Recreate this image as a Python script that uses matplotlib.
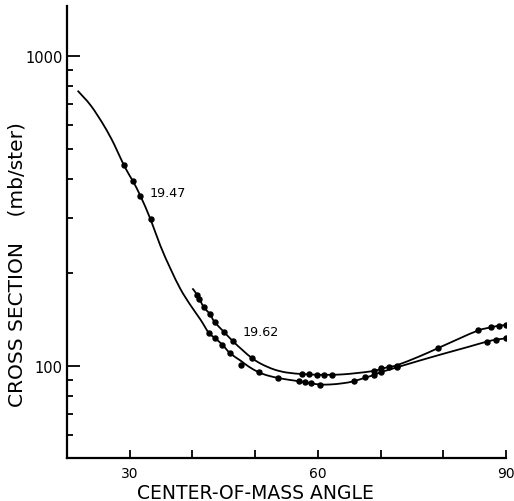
import matplotlib
matplotlib.use("Agg")
import numpy as np
import matplotlib.pyplot as plt
from matplotlib.path import Path
from matplotlib.patches import PathPatch
from matplotlib.ticker import FixedLocator, NullFormatter

# ---- data ----
# 19.47 curve: measured points
angle_1947 = [29.05, 30.48, 31.59, 33.34, 42.62, 43.58, 44.75, 45.95, 47.67, 50.58,
              53.67, 56.94, 57.90, 58.97, 60.29, 65.70, 67.56, 68.88, 70.06, 72.60,
              86.93, 88.41, 90.0]
xsec_1947 = [445, 395, 353, 298, 128, 123, 117, 110, 101, 95.4,
             91.5, 89.3, 88.6, 87.9, 87.0, 89.3, 92.4, 93.3, 95.9, 99.0,
             119.8, 121.6, 122.8]
# 19.47 curve: traced fitted line
curve_angle_1947 = [21.7, 23.8, 25.9, 27.5, 29.1, 30.5, 31.7, 33.3, 34.9, 36.5, 38.1,
                    39.7, 41.3, 42.6, 43.6, 44.8, 46.0, 47.7, 49.0, 50.6, 52.0, 53.7,
                    55.5, 57.0, 59.0, 60.3, 62.0, 64.0, 65.7, 67.6, 68.9, 70.1, 72.6,
                    76.0, 80.0, 84.0, 86.9, 88.4, 90.0]
curve_xsec_1947 = [773, 692, 596, 520, 443, 395, 354, 298, 244, 206, 177,
                   157, 141, 128, 123, 117, 110, 104, 99.5, 95.4, 93.2, 91.5,
                   90.2, 89.3, 87.9, 87.2, 87.2, 88.0, 89.3, 91.8, 93.5, 95.6, 99.0,
                   103.8, 109.5, 115.3, 119.8, 121.6, 122.8]

# 19.62 curve: measured points
angle_1962 = [40.77, 41.03, 41.82, 42.78, 43.53, 45.01, 46.50, 49.53, 57.49, 58.54,
              59.87, 61.03, 62.26, 68.88, 70.06, 71.27, 72.60, 79.22, 85.58, 87.56,
              88.93, 90.0]
xsec_1962 = [169, 165, 155, 147, 139, 129, 120, 106, 94.2, 94.0,
             93.7, 93.7, 93.7, 96.4, 98.3, 99.3, 99.8, 114.3, 130.3, 133.3,
             134.9, 135.5]
# 19.62 curve: traced fitted line
curve_angle_1962 = [40.0, 40.8, 41.8, 42.8, 43.5, 45.0, 46.5, 48.0, 49.5, 51.0, 53.0,
                    55.0, 57.5, 58.5, 59.9, 61.0, 62.3, 64.0, 66.0, 68.9, 70.1, 71.3,
                    72.6, 76.0, 79.2, 82.5, 85.6, 87.6, 88.9, 90.0]
curve_xsec_1962 = [178, 169, 155, 147, 139, 129, 120, 112.5, 106, 101.5, 97.5,
                   95.3, 94.2, 94.0, 93.7, 93.7, 93.7, 94.0, 94.8, 96.4, 97.9, 99.3,
                   100.6, 107, 114.3, 122.5, 130.3, 133.3, 134.9, 135.5]

curve_labels = ["19.47", "19.62"]
label_pos_angle = [36.05, 50.85]
label_pos_xsec = [364, 128.8]

x_ticks = [30, 40, 50, 60, 70, 80, 90]
x_tick_labels = ["30", "", "", "60", "", "", "90"]
y_major = [100, 1000]
y_major_labels = ["100", "1000"]
y_minor = [60, 70, 80, 90, 200, 300, 400, 500, 600, 700, 800, 900]


def smooth_path(xs, ys):
    """Catmull-Rom style Bezier path through the traced points (in angle / log space)."""
    x = np.asarray(xs, float)
    ly = np.log10(np.asarray(ys, float))
    n = len(x)
    verts = [(x[0], ly[0])]
    codes = [Path.MOVETO]
    for i in range(n - 1):
        x0, y0 = (x[i - 1], ly[i - 1]) if i > 0 else (x[i], ly[i])
        x1, y1 = x[i], ly[i]
        x2, y2 = x[i + 1], ly[i + 1]
        x3, y3 = (x[i + 2], ly[i + 2]) if i + 2 < n else (x2, y2)
        c1 = (x1 + (x2 - x0) / 6.0, y1 + (y2 - y0) / 6.0)
        c2 = (x2 - (x3 - x1) / 6.0, y2 - (y3 - y1) / 6.0)
        verts += [c1, c2, (x2, y2)]
        codes += [Path.CURVE4] * 3
    verts = [(vx, 10 ** vy) for vx, vy in verts]
    return Path(verts, codes)


# ---- figure ----
fig = plt.figure(figsize=(5.14, 5.02), dpi=100)
ax = fig.add_axes([67/514, 1 - 459/502, (506-67)/514, (459-7)/502])

ax.set_yscale("log")
ax.set_xlim(20, 90)
ax.set_ylim(50.5, 1450)

for cx, cy in [(curve_angle_1947, curve_xsec_1947), (curve_angle_1962, curve_xsec_1962)]:
    ax.add_patch(PathPatch(smooth_path(cx, cy), facecolor="none",
                           edgecolor="black", lw=1.3, transform=ax.transData))

ax.plot(angle_1947, xsec_1947, "o", color="black", ms=3.6)
ax.plot(angle_1962, xsec_1962, "o", color="black", ms=3.6)

for t, a, v in zip(curve_labels, label_pos_angle, label_pos_xsec):
    ax.text(a, v, t, ha="center", va="center", fontsize=9.2)

ax.spines["top"].set_visible(False)
ax.spines["right"].set_visible(False)
ax.spines["left"].set_linewidth(1.6)
ax.spines["bottom"].set_linewidth(1.6)

ax.set_xticks(x_ticks)
ax.set_xticklabels(x_tick_labels, fontsize=10)
ax.yaxis.set_major_locator(FixedLocator(y_major))
ax.set_yticklabels(y_major_labels, fontsize=10.5)
ax.yaxis.set_minor_locator(FixedLocator(y_minor))
ax.yaxis.set_minor_formatter(NullFormatter())
ax.xaxis.set_minor_locator(FixedLocator([]))

ax.tick_params(axis="x", direction="in", length=6, width=1.3, pad=6)
ax.tick_params(axis="y", which="major", direction="in", length=9.5, width=1.3, pad=3)
ax.tick_params(axis="y", which="minor", direction="in", length=4.5, width=1.3)

ax.set_xlabel("CENTER-OF-MASS ANGLE", fontsize=13.5)
ax.xaxis.set_label_coords(0.429, -0.055)
ax.set_ylabel("CROSS SECTION    (mb/ster)", fontsize=14.5)
ax.yaxis.set_label_coords(-0.092, 0.43)

fig.savefig("out.png", dpi=100)
